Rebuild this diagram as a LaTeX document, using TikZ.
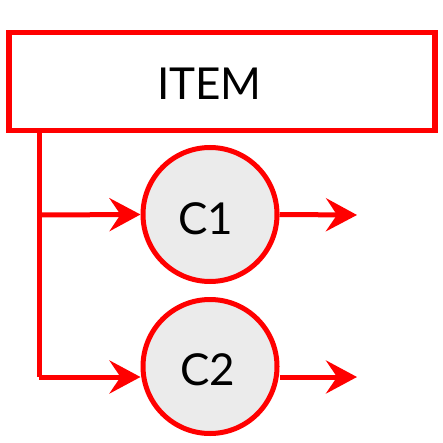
\documentclass[tikz,border=0pt]{standalone}
\usepackage{fontspec}
\setmainfont{Lato}
\usetikzlibrary{arrows.meta}
\definecolor{redline}{RGB}{255,0,0}
\definecolor{cfill}{RGB}{235,235,235}
\begin{document}
\begin{tikzpicture}[x=1pt,y=-1pt,
  conn/.style={draw=redline,line width=5pt},
  arr/.style={conn,-{Stealth[length=31pt,width=33pt,inset=11pt]}},
  box/.style={draw=redline,line width=5.5pt,fill=white,minimum width=426pt,minimum height=98pt,inner sep=0pt},
  circ/.style={circle,draw=redline,line width=5pt,fill=cfill,minimum size=134pt,inner sep=0pt},
  lbl/.style={anchor=base,inner sep=0pt,font=\fontsize{44}{44}\selectfont}]
\useasboundingbox (0,0) rectangle (443,443);
\node[box] (item) at (222,81.5) {};
\node[lbl] (itemt) at (209.5,100) {ITEM};
\node[circ] (c1) at (210,214.5) {};
\node[circ] (c2) at (210,366.5) {};
\node[lbl] (c1t) at (205.5,234) {C1};
\node[lbl] (c2t) at (207.5,385) {C2};
\coordinate (top) at (39,131);
\coordinate (j1) at (39,215);
\coordinate (j2) at (39,377);
\coordinate (o1) at (357,215);
\coordinate (o2) at (357,377);
\draw[conn] (top) -- (j2);
\draw[arr] (j1) -- (c1.west);
\draw[arr] (j2) -- (j2 -| c2.west);
\draw[arr] (c1.east) -- (o1);
\draw[arr] (o2 -| c2.east) -- (o2);
\end{tikzpicture}
\end{document}
